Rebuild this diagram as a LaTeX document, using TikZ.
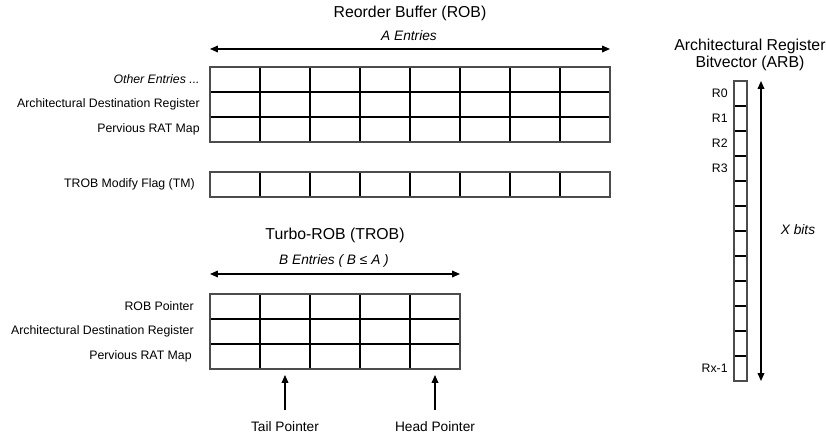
\documentclass[tikz,border=0pt]{standalone}
\usepackage{fontspec}
\setmainfont{Liberation Sans}
\usetikzlibrary{arrows.meta}
\begin{document}
\begin{tikzpicture}[x=0.02cm,y=-0.02cm,
  cell/.style={draw, line width=0.9pt, minimum width=1cm, minimum height=0.5cm, inner sep=0pt, outer sep=0pt},
  bit/.style={draw, line width=0.9pt, minimum width=0.26cm, minimum height=0.5cm, inner sep=0pt, outer sep=0pt},
  frame/.style={draw=black!70, line width=0.7pt},
  rowlabel/.style={anchor=east, inner sep=0pt, font=\fontsize{7}{8}\selectfont},
  title/.style={font=\fontsize{9}{9.8}\selectfont},
  note/.style={font=\fontsize{7.8}{9}\selectfont\itshape},
  ptrlabel/.style={anchor=north, inner sep=0pt, font=\fontsize{7.8}{9}\selectfont},
  dim/.style={{Triangle[length=4.5pt,width=3.8pt]}-{Triangle[length=4.5pt,width=3.8pt]}, line width=0.75pt},
  ptr/.style={-{Triangle[length=4.5pt,width=3.8pt]}, line width=0.75pt}]
\useasboundingbox (0,0) rectangle (826,442);

% reorder buffer
\node[title] (robtitle) at (410,13) {Reorder Buffer (ROB)};
\node[note] (aentries) at (409,36) {A Entries};
\coordinate (aL) at (210,49);
\coordinate (aR) at (610,49);
\draw[dim] (aL) -- (aR);
\foreach \r in {0,1,2}
  \foreach \c in {0,...,7}
    \node[cell] (rob-\r-\c) at ({235+50*\c},{79.5+25*\r}) {};
\draw[frame] (rob-0-0.north west) rectangle (rob-2-7.south east);
\node[rowlabel, font=\fontsize{7}{8}\selectfont\itshape] (robother) at (200,79.5) {Other Entries ...};
\node[rowlabel] (robdest) at (200,104.5) {Architectural Destination Register};
\node[rowlabel] (robrat) at (200,129.5) {Pervious RAT Map};

% modify flag
\foreach \c in {0,...,7}
  \node[cell] (tm-\c) at ({235+50*\c},184.5) {};
\draw[frame] (tm-0.north west) rectangle (tm-7.south east);
\node[rowlabel] (tmlabel) at (195,184.5) {TROB Modify Flag (TM)};

% turbo-rob
\node[title] (trobtitle) at (335,235) {Turbo-ROB (TROB)};
\node[note] (bentries) at (334,261) {B Entries ( B ≤ A )};
\coordinate (bL) at (210,274);
\coordinate (bR) at (460,274);
\draw[dim] (bL) -- (bR);
\foreach \r in {0,1,2}
  \foreach \c in {0,...,4}
    \node[cell] (trob-\r-\c) at ({235+50*\c},{306.5+25*\r}) {};
\draw[frame] (trob-0-0.north west) rectangle (trob-2-4.south east);
\node[rowlabel] (trobptr) at (194,306.5) {ROB Pointer};
\node[rowlabel] (trobdest) at (194,331.5) {Architectural Destination Register};
\node[rowlabel] (trobrat) at (192,356.5) {Pervious RAT Map};

% pointers
\node[ptrlabel] (tail) at (285,421) {Tail Pointer};
\node[ptrlabel] (head) at (435,421) {Head Pointer};
\draw[ptr, shorten <=6pt, shorten >=3.4pt] (tail) -- (trob-2-1.south);
\draw[ptr, shorten <=6pt, shorten >=3.4pt] (head) -- (trob-2-4.south);

% arb
\node[title, align=center] (arbtitle) at (750,55) {Architectural Register\\Bitvector (ARB)};
\foreach \i in {0,...,11}
  \node[bit] (arb-\i) at (740.5,{93.5+25*\i}) {};
\draw[frame] (arb-0.north west) rectangle (arb-11.south east);
\foreach \i in {0,...,3}
  \node[rowlabel] (reg-\i) at (728,{93.5+25*\i}) {R\i};
\node[rowlabel] (regx) at (728,368.5) {Rx-1};
\coordinate (xT) at (761,81);
\coordinate (xB) at (761,381);
\draw[dim] (xT) -- (xB);
\node[note] (xbits) at (798,230) {X bits};
\end{tikzpicture}
\end{document}
